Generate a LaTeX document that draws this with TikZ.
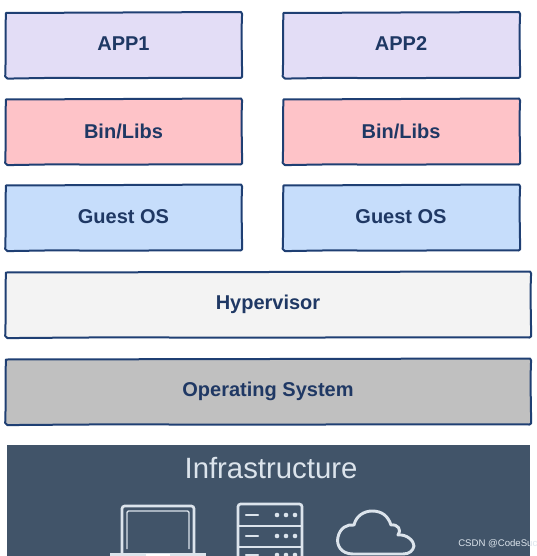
\documentclass[tikz,border=0pt]{standalone}
\usepackage{fontspec}
\setmainfont{Liberation Sans}
\definecolor{edge}{HTML}{1F3F73}
\definecolor{txt}{HTML}{1F3864}
\definecolor{appc}{HTML}{E3DDF6}
\definecolor{binc}{HTML}{FEC3C8}
\definecolor{osc}{HTML}{C6DDFB}
\definecolor{hyp}{HTML}{F3F3F3}
\definecolor{opc}{HTML}{C0C0C0}
\definecolor{infra}{HTML}{415469}
\definecolor{ico}{HTML}{DCE4EC}
\tikzset{
  x=0.75pt,y=-0.75pt,
  outline/.style={draw=edge,line width=1.5pt,line join=round,line cap=round},
  layerlabel/.style={text=txt,font=\bfseries\fontsize{15}{17}\selectfont,inner sep=0pt},
  icon/.style={draw=ico,line width=2pt,rounded corners=2pt},
  iconthin/.style={draw=ico,line width=1.1pt,rounded corners=1pt},
  ticks/.style={draw=ico,line width=1.8pt,line cap=round}
}
% hand-drawn box: left, top, right, bottom, fill
\newcommand{\sketchbox}[5]{%
  \pgfmathsetmacro{\mx}{(#1+#3)/2}%
  \pgfmathsetmacro{\qx}{(#1+\mx)/2}%
  \pgfmathsetmacro{\rx}{(#3+\mx)/2}%
  \pgfmathsetmacro{\my}{(#2+#4)/2}%
  \path[fill=#5,outline]
    (#1+0.5,#2+0.5) .. controls (\qx,#2+0.8) and (\qx,#2-0.5) .. (\mx,#2)
    .. controls (\rx,#2+0.6) and (\rx,#2-0.9) .. (#3-0.5,#2-0.5)
    -- (#3+0.6,#2+1.5)
    .. controls (#3-0.6,\my-6) and (#3+0.7,\my+8) .. (#3+0.5,#4-1)
    -- (#3-1,#4)
    .. controls (\rx,#4-0.8) and (\mx,#4+0.8) .. (\qx,#4-0.2)
    .. controls (\qx,#4-0.4) and (#1+10,#4+0.5) .. (#1+2,#4+0.6)
    -- (#1-0.3,#4-1.5)
    .. controls (#1+0.6,\my+8) and (#1-0.6,\my-8) .. (#1+0.5,#2+0.5) -- cycle;%
}
\begin{document}
\begin{tikzpicture}
\useasboundingbox (0,0) rectangle (536,556);
\clip (0,0) rectangle (536,556);
\sketchbox{5.5}{12.5}{241.5}{78}{appc}
\sketchbox{283}{12.5}{519.5}{78}{appc}
\sketchbox{5.5}{99}{241.5}{164.5}{binc}
\sketchbox{283}{99}{519.5}{164.5}{binc}
\sketchbox{5.5}{185}{241.5}{250.5}{osc}
\sketchbox{283}{185}{519.5}{250.5}{osc}
\sketchbox{5.5}{272}{530.5}{337.5}{hyp}
\sketchbox{5.5}{359}{530.5}{424.5}{opc}
\node[layerlabel] (app1) at (123.5,44) {APP1};
\node[layerlabel] (app2) at (401,44) {APP2};
\node[layerlabel] (bin1) at (123.5,131) {Bin/Libs};
\node[layerlabel] (bin2) at (401,131) {Bin/Libs};
\node[layerlabel] (os1) at (123.5,217) {Guest OS};
\node[layerlabel] (os2) at (401,217) {Guest OS};
\node[layerlabel] (hv) at (268,304) {Hypervisor};
\node[layerlabel] (host) at (268,391) {Operating System};
\fill[infra] (7,445) rectangle (530,556);
\node[text=ico,font=\fontsize{22}{24}\selectfont,inner sep=0pt] (inf) at (271,468) {Infrastructure};
% laptop
\draw[icon] (122,553) -- (122,506) -- (194,506) -- (194,553);
\draw[iconthin] (127,549) -- (127,511) -- (189,511) -- (189,549);
\fill[ico] (110,553) rectangle (206,556);
\fill[white] (146,553.5) rectangle (170,556);
% server
\draw[icon] (238,556) -- (238,504) -- (302,504) -- (302,556);
\draw[ticks] (238,526) -- (302,526) (238,547) -- (302,547);
\draw[ticks] (246,515) -- (258,515) (246,536) -- (258,536) (246,555) -- (258,555);
\foreach \yy in {515,536,555}{
  \foreach \xx in {277,286,295}{\fill[ico] (\xx,\yy) circle[radius=2.3];}
}
% cloud
\draw[draw=ico,line width=2.2pt,line cap=round,line join=round]
  (353,554) .. controls (341,554) and (336,545) .. (338,537)
  .. controls (340,528) and (347,524) .. (354,525)
  .. controls (356,516) and (364,511) .. (372,511)
  .. controls (382,511) and (388,516) .. (391,525)
  .. controls (398,524) and (402,530) .. (398,535)
  .. controls (407,534) and (414,541) .. (414,546)
  .. controls (413,551) and (409,554) .. (403,554) -- cycle;
% watermark
\node[anchor=west,text=ico,font=\fontsize{7.2}{9}\selectfont,inner sep=0pt] (mark) at (458,544) {CSDN @CodeSuc};
\end{tikzpicture}
\end{document}
